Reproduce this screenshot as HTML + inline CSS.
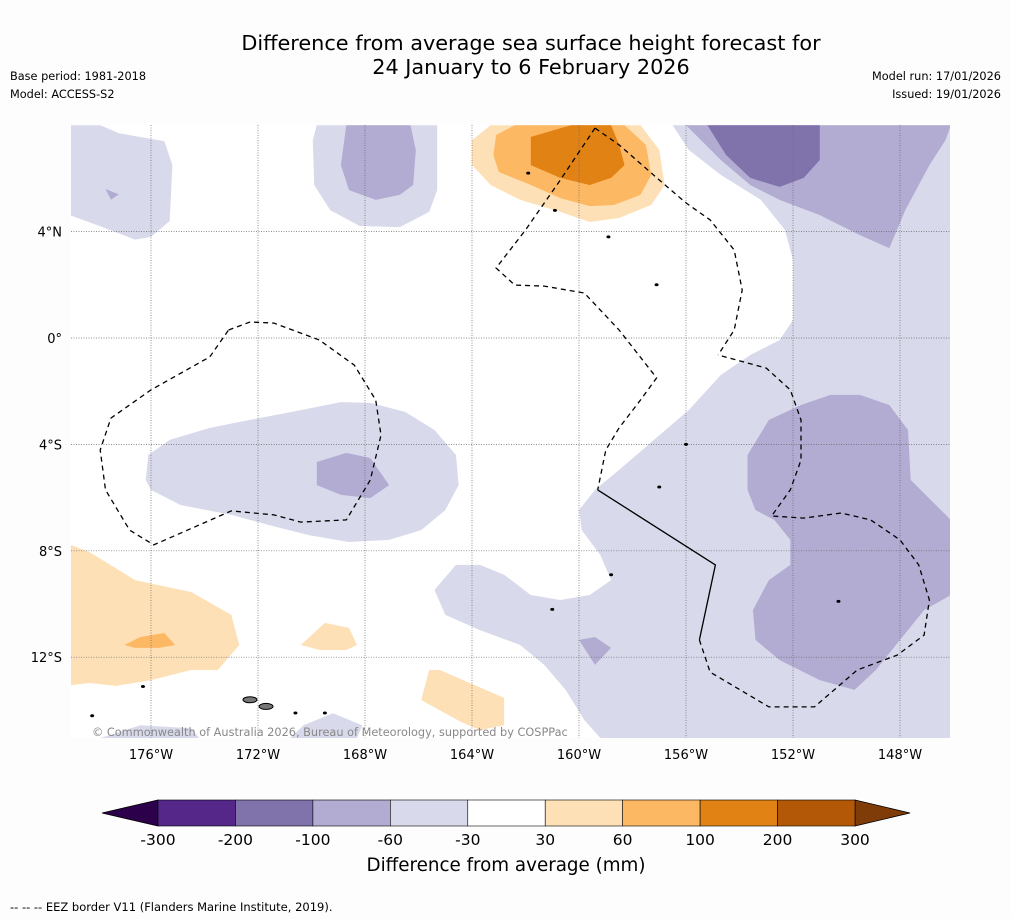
<!DOCTYPE html>
<html><head><meta charset="utf-8"><style>
body{margin:0;background:#fdfdfd;font-family:"Liberation Sans","DejaVu Sans",sans-serif}
svg{display:block}
</style></head><body>
<svg id="chart" width="1011" height="919" viewBox="0 0 1011 919" xmlns="http://www.w3.org/2000/svg" font-family="DejaVu Sans, Liberation Sans, sans-serif">
<rect width="1011" height="919" fill="#fdfdfd"/>
<text x="531" y="50" font-size="20.8" text-anchor="middle" fill="#000">Difference from average sea surface height forecast for</text>
<text x="531" y="74" font-size="20.8" text-anchor="middle" fill="#000">24 January to 6 February 2026</text>
<text x="10" y="80" font-size="11.3">Base period: 1981-2018</text>
<text x="10" y="98" font-size="11.3">Model: ACCESS-S2</text>
<text x="1001" y="80" font-size="11.3" text-anchor="end">Model run: 17/01/2026</text>
<text x="1001" y="98" font-size="11.3" text-anchor="end">Issued: 19/01/2026</text>
<g id="map"></g>
<g id="cbar"></g>
<text x="506" y="871" font-size="18.3" text-anchor="middle">Difference from average (mm)</text>
<text x="10" y="911" font-size="11.5">--  --  -- EEZ border V11 (Flanders Marine Institute, 2019).</text>
</svg>
<script>
const lonTicks=[-176,-172,-168,-164,-160,-156,-152,-148];
const latTicks=[4,0,-4,-8,-12];
const cbBounds=[-300,-200,-100,-60,-30,30,60,100,200,300];
const cbColors=["#542788","#8073ac","#b2abd2","#d8daeb","#ffffff","#fee0b6","#fdb863","#e08214","#b35806"];
const cbUnder="#2d004b", cbOver="#7f3b08";
const lightPurple1=[[-179,8],[-177.9,8],[-177.2,7.7],[-175.5,7.4],[-175.2,6.5],[-175.3,4.4],[-176,3.8],[-176.6,3.7],[-177.9,4.2],[-179,4.6]];
const lightPurple2=[[-169.8,8],[-165.3,8],[-165.3,5.56],[-165.6,4.74],[-166.7,4.17],[-168.2,4.21],[-169.3,4.81],[-169.9,5.75],[-169.95,7.44]];
const midPurple2=[[-168.7,8],[-166.3,8],[-166.1,7.07],[-166.2,5.75],[-166.7,5.38],[-167.6,5.19],[-168.6,5.56],[-168.9,6.5]];
const orangeA=[[-163.3,8],[-157.7,8],[-157.0,7.07],[-156.8,5.75],[-157.3,5.0],[-158.5,4.51],[-159.6,4.36],[-160.7,4.74],[-162.2,5.19],[-163.3,5.75],[-164.0,6.5],[-164.0,7.44]];
const orangeB=[[-162.4,8],[-158.3,8],[-157.5,7.26],[-157.3,6.13],[-157.7,5.38],[-158.7,5.0],[-159.6,4.96],[-160.7,5.26],[-161.8,5.75],[-163.0,6.24],[-163.2,6.88],[-163.1,7.63]];
const orangeC=[[-160.3,8],[-158.8,8],[-158.5,7.26],[-158.3,6.5],[-158.8,6.02],[-159.6,5.75],[-160.7,6.02],[-161.8,6.5],[-161.8,7.56]];
const rightLight=[[-156.5,8],[-146.1,8],[-146.1,-15.04],[-159.2,-15.04],[-159.8,-14.36],[-160.5,-13.23],[-161.3,-12.29],[-162.2,-11.54],[-163.7,-10.98],[-165.0,-10.41],[-165.4,-9.47],[-164.6,-8.53],[-163.7,-8.53],[-162.8,-8.9],[-161.8,-9.66],[-160.7,-9.85],[-159.6,-9.66],[-158.8,-9.1],[-159.2,-8.16],[-159.9,-7.22],[-160.0,-6.47],[-159.4,-5.71],[-158.5,-4.96],[-157.2,-3.83],[-155.9,-2.71],[-154.7,-1.39],[-153.6,-0.64],[-152.5,-0.08],[-152.0,0.68],[-152.0,2.93],[-152.3,4.06],[-153.2,5.19],[-154.7,6.13],[-155.9,7.07]];
const rightMidTop=[[-156.0,8],[-146.1,8],[-146.3,7.44],[-146.9,6.5],[-147.8,4.81],[-148.4,3.38],[-149.5,3.87],[-151.0,4.62],[-152.5,5.19],[-153.6,5.75],[-154.7,6.69]];
const rightDarkTop=[[-155.2,8],[-151.0,8],[-151.0,6.69],[-151.6,6.02],[-152.5,5.68],[-153.6,6.02],[-154.5,6.88]];
const rightMid=[[-152.9,-3.08],[-151.7,-2.52],[-150.6,-2.14],[-149.5,-2.14],[-148.4,-2.52],[-147.7,-3.46],[-147.6,-5.34],[-146.1,-6.84],[-146.1,-9.66],[-147.1,-10.23],[-148.0,-11.35],[-148.9,-12.48],[-149.7,-13.23],[-151.0,-12.86],[-152.5,-12.11],[-153.4,-11.35],[-153.5,-10.23],[-152.9,-9.1],[-152.1,-8.53],[-152.1,-7.59],[-152.7,-6.84],[-153.4,-6.47],[-153.7,-5.71],[-153.7,-4.4]];
const smallPatch=[[-160.0,-11.35],[-159.4,-11.24],[-158.8,-11.65],[-159.4,-12.29]];
const midLeftLight=[[-176.1,-4.4],[-175.3,-3.83],[-173.8,-3.38],[-172.3,-3.08],[-170.4,-2.71],[-168.9,-2.41],[-167.8,-2.44],[-166.5,-2.78],[-165.4,-3.46],[-164.6,-4.4],[-164.5,-5.53],[-165.0,-6.47],[-165.9,-7.22],[-167.1,-7.59],[-168.6,-7.67],[-170.1,-7.41],[-171.6,-7.03],[-173.0,-6.65],[-174.9,-6.28],[-176.0,-5.71],[-176.2,-5.34]];
const midLeftMid=[[-169.8,-4.66],[-168.7,-4.32],[-167.8,-4.51],[-167.1,-5.53],[-167.8,-6.02],[-168.9,-5.9],[-169.8,-5.53]];
const leftOrange=[[-179,-7.78],[-178.3,-8.05],[-176.6,-9.1],[-174.5,-9.55],[-173.0,-10.41],[-172.7,-11.54],[-173.5,-12.48],[-174.5,-12.48],[-176.0,-12.86],[-177.3,-13.08],[-178.3,-12.97],[-179,-13.05]];
const leftOrangeMid=[[-177.0,-11.54],[-176.4,-11.24],[-175.5,-11.09],[-175.1,-11.54],[-175.7,-11.65],[-176.6,-11.65]];
const smallOrange1=[[-170.4,-11.54],[-169.5,-10.71],[-168.6,-10.9],[-168.3,-11.54],[-168.7,-11.73],[-169.7,-11.73]];
const smallOrange2=[[-165.6,-12.48],[-165.2,-12.48],[-162.8,-13.53],[-162.8,-14.55],[-163.7,-14.74],[-164.4,-14.44],[-165.9,-13.61]];
const bottomLight1=[[-170.8,-15.04],[-170.3,-14.56],[-169.2,-14.11],[-168.1,-14.56],[-168.3,-15.04]];
const bottomLight2=[[-177.9,-15.04],[-176.4,-14.56],[-174.5,-14.67],[-174.2,-15.04]];
const tinyLight=[[-177.7,5.6],[-177.2,5.4],[-177.5,5.2]];
const fills=[["#d8daeb",lightPurple1],["#b2abd2",tinyLight],["#d8daeb",lightPurple2],["#b2abd2",midPurple2],["#fee0b6",orangeA],["#fdb863",orangeB],["#e08214",orangeC],["#d8daeb",rightLight],["#b2abd2",rightMidTop],["#8073ac",rightDarkTop],["#b2abd2",rightMid],["#b2abd2",smallPatch],["#d8daeb",midLeftLight],["#b2abd2",midLeftMid],["#fee0b6",leftOrange],["#fdb863",leftOrangeMid],["#fee0b6",smallOrange1],["#fee0b6",smallOrange2],["#d8daeb",bottomLight1],["#d8daeb",bottomLight2]];
const eezLeft=[[-173.1,0.3],[-172.3,0.6],[-171.4,0.56],[-169.7,-0.08],[-168.4,-1.02],[-167.6,-2.33],[-167.4,-3.65],[-167.8,-5.34],[-168.7,-6.84],[-170.4,-6.92],[-171.4,-6.65],[-173.0,-6.5],[-175.9,-7.78],[-176.8,-7.22],[-177.7,-5.71],[-177.9,-4.21],[-177.5,-3.01],[-176.0,-1.95],[-173.8,-0.71],[-173.1,0.3]];
const eezNorthEast=[[-159.4,7.89],[-158.5,7.26],[-157.0,5.94],[-156.0,5.08],[-155.1,4.44],[-154.2,3.31],[-153.9,1.8],[-154.2,0.3],[-154.8,-0.64]];
const eezNorthWest=[[-159.4,7.89],[-160.7,5.94],[-162.0,4.06],[-163.1,2.63],[-162.4,1.99],[-161.3,1.95],[-159.8,1.69],[-158.5,0.3],[-157.1,-1.5],[-157.7,-2.33],[-158.5,-3.38],[-159.0,-4.21],[-159.3,-5.71]];
const eezSolid=[[-159.3,-5.71],[-154.9,-8.53],[-155.5,-11.35]];
const eezSouthEast=[[-155.5,-11.35],[-155.1,-12.56],[-152.9,-13.87],[-151.2,-13.87],[-149.6,-12.48],[-148.1,-11.92],[-147.1,-11.17],[-146.9,-9.85],[-147.3,-8.53],[-148.0,-7.59],[-149.1,-6.84],[-150.2,-6.58],[-151.6,-6.77],[-152.8,-6.69],[-152.1,-5.71],[-151.7,-4.59],[-151.7,-3.08],[-152.1,-1.95],[-153.0,-1.13],[-154.8,-0.64]];
const islands=[[-172.3,-13.6],[-171.7,-13.85],[-170.6,-14.1],[-169.5,-14.1],[-176.3,-13.1],[-178.2,-14.2],[-158.8,-8.9],[-157.1,2.0],[-160.9,4.8],[-161.9,6.2],[-158.9,3.8],[-150.3,-9.9],[-156.0,-4.0],[-157.0,-5.6],[-161.0,-10.2]];

const NS="http://www.w3.org/2000/svg";
const X0=71,X1=950,Y0=125,Y1=738;
const xs=lon=>151+(lon+176)*26.75;
const ys=lat=>338-lat*26.6;
function mk(tag,attrs,parent){const e=document.createElementNS(NS,tag);for(const k in attrs)e.setAttribute(k,attrs[k]);parent.appendChild(e);return e;}
const map=document.getElementById('map');
const defs=mk('defs',{},map);
const cp=mk('clipPath',{id:'clip'},defs);
mk('rect',{x:X0,y:Y0,width:X1-X0,height:Y1-Y0},cp);
const bg=mk('rect',{x:X0,y:Y0,width:X1-X0,height:Y1-Y0,fill:'#ffffff'},map);


const g=mk('g',{'clip-path':'url(#clip)'},map);
const pts=a=>a.map(p=>xs(p[0]).toFixed(1)+','+ys(p[1]).toFixed(1)).join(' ');
fills.forEach(([c,poly])=>{
  const p=mk('polygon',{points:pts(poly),fill:c},g);
  
  
});
lonTicks.forEach(l=>{
  const ln=mk('line',{x1:xs(l),x2:xs(l),y1:Y0,y2:Y1,stroke:'#666','stroke-width':0.7,'stroke-dasharray':'1,1.5'},g);
  
  
  const t=mk('text',{x:xs(l),y:759,'font-size':13,'text-anchor':'middle'},map);
  t.textContent=Math.abs(l)+'°W';
  
  
});
latTicks.forEach(l=>{
  const ln=mk('line',{x1:X0,x2:X1,y1:ys(l),y2:ys(l),stroke:'#666','stroke-width':0.7,'stroke-dasharray':'1,1.5'},g);
  
  
  const t=mk('text',{x:62,y:ys(l)+5,'font-size':13,'text-anchor':'end'},map);
  t.textContent=l===0?'0°':Math.abs(l)+'°'+(l>0?'N':'S');
  
  
});
[eezLeft,eezNorthEast,eezNorthWest,eezSouthEast].forEach(a=>{
  const p=mk('polyline',{points:pts(a),fill:'none',stroke:'#000','stroke-width':1.3,'stroke-dasharray':'5,4'},g);
  
  
});
const sl=mk('polyline',{points:pts(eezSolid),fill:'none',stroke:'#000','stroke-width':1.3},g);


islands.forEach((p,i)=>{
  const e=mk('ellipse',{cx:xs(p[0]),cy:ys(p[1]),rx:i<2?7:2,ry:i<2?3:1.5,fill:i<2?'#777':'#000',stroke:'#000','stroke-width':i<2?1:0},g);
  
  
});
const cr=mk('text',{x:92,y:736,'font-size':11.3,fill:'#888'},map);
cr.textContent='© Commonwealth of Australia 2026, Bureau of Meteorology, supported by COSPPac';


const cb=document.getElementById('cbar');
const CB0=158,CB1=855,CBy=800,CBh=26;
const segW=(CB1-CB0)/cbColors.length;
const under=mk('polygon',{points:`${CB0},${CBy} ${CB0},${CBy+CBh} 102,${CBy+CBh/2}`,fill:cbUnder,stroke:'#000','stroke-width':0.8},cb);


const over=mk('polygon',{points:`${CB1},${CBy} ${CB1},${CBy+CBh} 910,${CBy+CBh/2}`,fill:cbOver,stroke:'#000','stroke-width':0.8},cb);


cbColors.forEach((c,i)=>{
  const r=mk('rect',{x:CB0+i*segW,y:CBy,width:segW,height:CBh,fill:c,stroke:'#000','stroke-width':0.6},cb);
  
  
});
cbBounds.forEach((b,i)=>{
  const t=mk('text',{x:CB0+i*segW,y:845,'font-size':15.5,'text-anchor':'middle'},cb);
  t.textContent=b;
  
  
});
</script>
</body></html>
